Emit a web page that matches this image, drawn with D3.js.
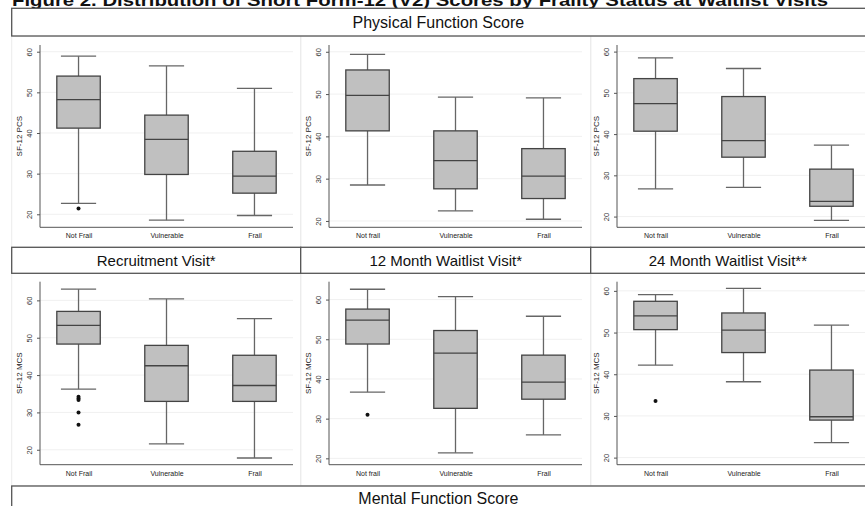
<!DOCTYPE html>
<html><head><meta charset="utf-8">
<script src="https://cdn.jsdelivr.net/npm/d3@7"></script>
<style>body{margin:0;background:#fff}svg{display:block;font-family:"Liberation Sans",Arial,sans-serif}</style>
</head><body><svg id="c" width="865" height="506"></svg>
<script>
// ---------- data ----------
const title = "Figure 2. Distribution of Short Form-12 (V2) Scores by Frailty Status at Waitlist Visits";
const topHeader = "Physical Function Score";
const bottomHeader = "Mental Function Score";
const visits = ["Recruitment Visit*", "12 Month Waitlist Visit*", "24 Month Waitlist Visit**"];
const categoriesRecruitment = ["Not Frail", "Vulnerable", "Frail"];
const categoriesWaitlist = ["Not frail", "Vulnerable", "Frail"];
const yTicks = [20, 30, 40, 50, 60];
const pcsLabel = "SF-12 PCS";
const mcsLabel = "SF-12 MCS";
// each box: [lower whisker, Q1, median, Q3, upper whisker]
const pcsRecruitment = [[22.7, 41.2, 48.2, 54.0, 58.9], [18.55, 29.8, 38.45, 44.4, 56.5], [19.7, 25.2, 29.4, 35.5, 51.0]];
const pcsRecruitmentOutliers = [[21.4], [], []];
const pcs12Month = [[28.5, 41.3, 49.7, 55.7, 59.4], [22.4, 27.6, 34.25, 41.3, 49.3], [20.4, 25.3, 30.6, 37.1, 49.1]];
const pcs12MonthOutliers = [[], [], []];
const pcs24Month = [[26.7, 40.7, 47.4, 53.45, 58.5], [27.1, 34.4, 38.4, 49.1, 55.9], [19.1, 22.5, 23.7, 31.5, 37.3]];
const pcs24MonthOutliers = [[], [], []];
const mcsRecruitment = [[36.25, 48.3, 53.3, 57.05, 63.0], [21.6, 32.95, 42.5, 47.95, 60.4], [17.8, 32.95, 37.2, 45.3, 55.1]];
const mcsRecruitmentOutliers = [[34.2, 33.75, 33.3, 30.0, 26.7], [], []];
const mcs12Month = [[36.7, 48.8, 54.8, 57.6, 62.6], [21.4, 32.6, 46.5, 52.2, 60.75], [25.9, 34.9, 39.2, 46.0, 55.8]];
const mcs12MonthOutliers = [[31.0], [], []];
const mcs24Month = [[42.2, 50.7, 54.0, 57.5, 59.1], [38.2, 45.2, 50.6, 54.7, 60.6], [23.6, 29.0, 29.8, 41.0, 51.8]];
const mcs24MonthOutliers = [[33.6], [], []];
// y-axis ranges of each panel (value at bottom, value at top)
const pcsDomains = [[16.8, 61.65], [18.5, 61.6], [17.4, 61.6]];
const mcsDomains = [[16.0, 65.0], [18.4, 64.5], [18.3, 62.2]];

// ---------- layout ----------
const svg = d3.select("#c");
svg.append("rect").attr("width", 865).attr("height", 506).attr("fill", "#fff");

const colX = [[40, 293], [329, 582], [617, 870]];
const colBounds = [[11.7, 300.7], [300.7, 590.7], [590.7, 870]];
const rows = [
  {plot: [45, 227.3], frame: [36, 247.3], label: pcsLabel, data: [pcsRecruitment, pcs12Month, pcs24Month],
   out: [pcsRecruitmentOutliers, pcs12MonthOutliers, pcs24MonthOutliers], domains: pcsDomains},
  {plot: [281.7, 464.7], frame: [273.3, 486], label: mcsLabel, data: [mcsRecruitment, mcs12Month, mcs24Month],
   out: [mcsRecruitmentOutliers, mcs12MonthOutliers, mcs24MonthOutliers], domains: mcsDomains}
];

// title (cut at the top edge, as in the reference)
svg.append("text").attr("x", 12).attr("y", 6).attr("font-size", 17).attr("font-weight", "bold")
  .attr("fill", "#111").attr("textLength", 816).attr("lengthAdjust", "spacingAndGlyphs").text(title);

rows.forEach((row, ri) => {
  for (let ci = 0; ci < 3; ci++) {
    const g = svg.append("g");
    g.append("rect").attr("x", colBounds[ci][0]).attr("y", row.frame[0])
      .attr("width", colBounds[ci][1] - colBounds[ci][0]).attr("height", row.frame[1] - row.frame[0])
      .attr("fill", "none").attr("stroke", "#ececec").attr("stroke-width", 1);
    const cats = ci === 0 ? categoriesRecruitment : categoriesWaitlist;
    const x = d3.scalePoint().domain(cats).range(colX[ci]).padding(0.438);
    const y = d3.scaleLinear().domain(row.domains[ci]).range([row.plot[1], row.plot[0]]);
    const step = x.step();
    const bw = step * 0.494, cw = step * 0.4;
    g.selectAll(".grid").data(yTicks).join("line")
      .attr("x1", colX[ci][0]).attr("x2", Math.min(colX[ci][1], 866))
      .attr("y1", d => y(d)).attr("y2", d => y(d)).attr("stroke", "#f0f0f0").attr("stroke-width", 1);
    const ya = g.append("g").attr("transform", `translate(${colX[ci][0]},0)`)
      .call(d3.axisLeft(y).tickValues(yTicks).tickSize(3).tickPadding(3).tickFormat(d3.format("d")));
    ya.select(".domain").attr("stroke", "#555").attr("d", `M0,${row.plot[0]}V${row.plot[1]}`);
    ya.selectAll(".tick line").attr("stroke", "#555");
    ya.selectAll(".tick text").attr("font-size", 7.5).attr("fill", "#333")
      .attr("text-anchor", "middle").attr("transform", "rotate(-90)").attr("x", 0).attr("y", -8.5).attr("dy", "0");
    const xa = g.append("g").attr("transform", `translate(0,${row.plot[1]})`)
      .call(d3.axisBottom(x).tickSize(0).tickPadding(6));
    xa.select(".domain").attr("stroke", "#555").attr("d", `M${colX[ci][0]},0H${colX[ci][1]}`);
    xa.selectAll(".tick text").attr("font-size", 7).attr("fill", "#222");
    g.append("text").attr("transform", `translate(${colX[ci][0] - 18},${(row.plot[0] + row.plot[1]) / 2}) rotate(-90)`)
      .attr("text-anchor", "middle").attr("font-size", 8).attr("fill", "#222").text(row.label);
    const data = row.data[ci];
    cats.forEach((c, k) => {
      const [lo, q1, md, q3, hi] = data[k];
      const cx = x(c);
      const wh = "#666";
      g.append("line").attr("x1", cx).attr("x2", cx).attr("y1", y(hi)).attr("y2", y(q3)).attr("stroke", wh).attr("stroke-width", 1.3);
      g.append("line").attr("x1", cx).attr("x2", cx).attr("y1", y(q1)).attr("y2", y(lo)).attr("stroke", wh).attr("stroke-width", 1.3);
      g.append("line").attr("x1", cx - cw / 2).attr("x2", cx + cw / 2).attr("y1", y(hi)).attr("y2", y(hi)).attr("stroke", wh).attr("stroke-width", 1.3);
      g.append("line").attr("x1", cx - cw / 2).attr("x2", cx + cw / 2).attr("y1", y(lo)).attr("y2", y(lo)).attr("stroke", wh).attr("stroke-width", 1.3);
      g.append("rect").attr("x", cx - bw / 2).attr("y", y(q3)).attr("width", bw).attr("height", y(q1) - y(q3))
        .attr("fill", "#c0c0c0").attr("stroke", "#444").attr("stroke-width", 1.3);
      g.append("line").attr("x1", cx - bw / 2).attr("x2", cx + bw / 2).attr("y1", y(md)).attr("y2", y(md))
        .attr("stroke", "#444").attr("stroke-width", 1.3);
      row.out[ci][k].forEach(v => {
        g.append("circle").attr("cx", cx).attr("cy", y(v)).attr("r", 2).attr("fill", "#111");
      });
    });
  }
});

function header(x0, x1, y0, y1, txt, fs) {
  svg.append("rect").attr("x", x0).attr("y", y0).attr("width", x1 - x0).attr("height", y1 - y0)
    .attr("fill", "#fff").attr("stroke", "#555").attr("stroke-width", 1.3);
  svg.append("text").attr("x", (x0 + Math.min(x1, 865)) / 2).attr("y", (Math.min(y1, 510) + y0) / 2).attr("dy", "0.36em")
    .attr("text-anchor", "middle").attr("font-size", fs).attr("fill", "#111").text(txt);
}
header(11.7, 870, 8.3, 36, topHeader, 16);
const hx = [[11.7, 300.7], [300.7, 590.7], [590.7, 870]];
visits.forEach((v, i) => header(hx[i][0], hx[i][1], 247.3, 273.3, v, 15));
header(11.7, 870, 486, 514, bottomHeader, 16);
</script></body></html>
